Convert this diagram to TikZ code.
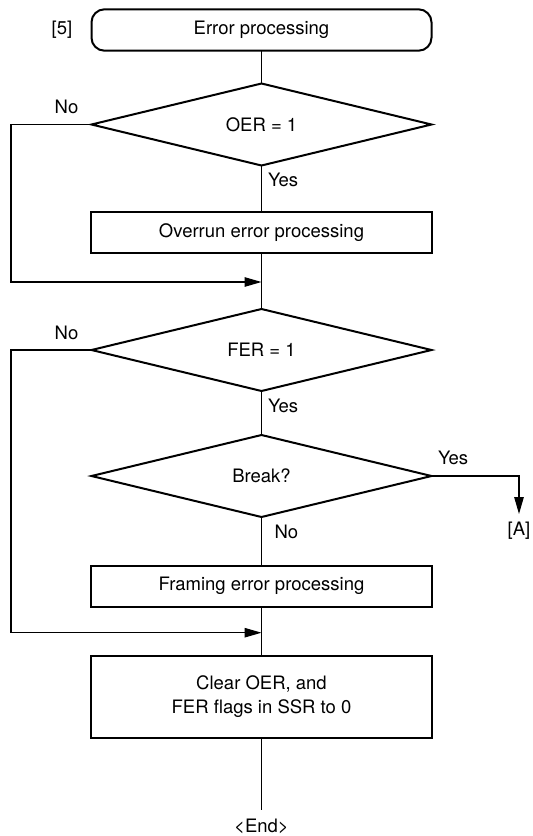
\documentclass[tikz,border=0pt]{standalone}
\usepackage{fontspec}
\setmainfont{TeX Gyre Heros}
\usetikzlibrary{shapes.geometric,arrows.meta}
\begin{document}
\begin{tikzpicture}[x=1pt,y=1pt,
  every node/.style={font=\fontsize{18.5pt}{23.7pt}\selectfont, inner sep=0pt, outer sep=0pt},
  term/.style={draw, line width=2pt, rounded corners=13pt, minimum width=340pt, minimum height=41.4pt},
  procbox/.style={draw, line width=2pt, minimum width=341pt, minimum height=41pt, align=center},
  decision/.style={draw, line width=2pt, diamond, minimum width=340pt, minimum height=82pt, aspect=4.1},
  conn/.style={line width=1.2pt},
  arr/.style={conn, -{Triangle[length=17pt,width=9.5pt]}},
  lbl/.style={}
]
\useasboundingbox (0,0) rectangle (533,-836);
\node[term] (start) at (261.5,-30) {Error processing};
\node[lbl] (n5) at (62,-30) {[5]};
\node[decision] (d1) at (261.5,-124.5) {OER = 1};
\node[procbox] (b1) at (261.5,-232.2) {Overrun error processing};
\coordinate (j1) at (261.5,-282);
\node[decision] (d2) at (261.5,-350) {FER = 1};
\node[decision] (d3) at (261.5,-476) {Break?};
\node[procbox] (b2) at (261.5,-586.2) {Framing error processing};
\coordinate (j2) at (261.5,-632.7);
\node[procbox, minimum height=82pt] (b3) at (261.5,-696.7) {Clear OER, and\\FER flags in SSR to 0};
\coordinate (endpt) at (261.5,-810);
\node (End) at (261.5,-826.5) {\textless End\textgreater};
\coordinate (atip) at (519,-514);
\node (A) at (519,-531) {[A]};
% labels
\node[lbl] (no1) at (66.5,-107) {No};
\node[lbl, anchor=west] (yes1) at (268,-180) {Yes};
\node[lbl] (no2) at (66.5,-333) {No};
\node[lbl, anchor=west] (yes2) at (268,-406) {Yes};
\node[lbl, anchor=west] (yes3) at (438,-458) {Yes};
\node[lbl, anchor=west] (no3) at (274.5,-532) {No};
% connectors
\draw[conn] (start.south) -- (d1.north);
\draw[conn] (d1.south) -- (b1.north);
\draw[conn] (b1.south) -- (d2.north);
\draw[arr] (d1.west) -- ++(-80.5,0) |- (j1);
\draw[conn] (d2.south) -- (d3.north);
\draw[arr] (d2.west) -- ++(-80.5,0) |- (j2);
\draw[arr] (d3.east) -| (atip);
\draw[conn] (d3.south) -- (b2.north);
\draw[conn] (b2.south) -- (b3.north);
\draw[conn] (b3.south) -- (endpt);
\end{tikzpicture}
\end{document}
